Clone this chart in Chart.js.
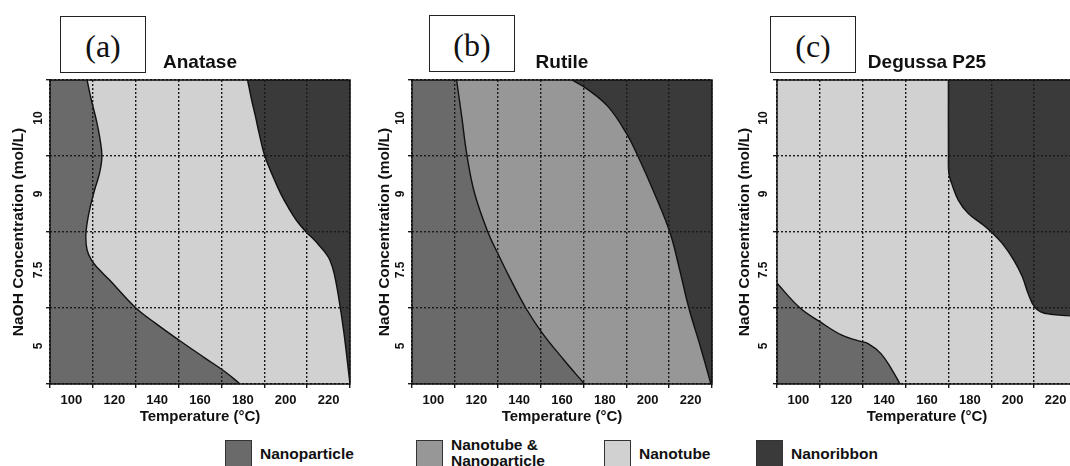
<!DOCTYPE html>
<html>
<head>
<meta charset="utf-8">
<script src="https://cdn.jsdelivr.net/npm/chart.js@4.4.1/dist/chart.umd.min.js"></script>
<style>
  body { margin: 0; width: 1070px; height: 466px; overflow: hidden; background: #fff; position: relative;
         font-family: "Liberation Sans", Arial, sans-serif; color: #111; }
  canvas { position: absolute; top: 0; }
  .tag { position: absolute; box-sizing: border-box; width: 86px; height: 57px; border: 1.5px solid #222; background: #fff;
         font-family: "Liberation Serif", "Times New Roman", serif; font-size: 32px; line-height: 58px; text-align: center; }
  .sw { position: absolute; top: 440px; width: 27px; height: 27px; box-sizing: border-box; border: 1.5px solid #333; }
  .lbl { position: absolute; font-weight: bold; font-size: 15.5px; line-height: 16px; white-space: pre; }
</style>
</head>
<body>
<canvas id="anatase" width="355" height="430" style="left:0px"></canvas>
<canvas id="rutile" width="355" height="430" style="left:362px"></canvas>
<canvas id="p25" width="355" height="430" style="left:727px"></canvas>
<div class="tag" style="left:60px;top:16px">(a)</div>
<div class="tag" style="left:429px;top:15px">(b)</div>
<div class="tag" style="left:770px;top:16px">(c)</div>
<div id="legend"></div>

<script>
const tempTicks = [100, 120, 140, 160, 180, 200, 220];
// NaOH concentration bands, bottom to top
const concLabels = ["5", "7.5", "9", "10"];
const phaseNames = ["Nanoparticle", "Nanotube &\nNanoparticle", "Nanotube", "Nanoribbon"];
const phaseColors = ["#6a6a6a", "#979797", "#d1d1d1", "#3a3a3a"];

// phase boundaries as [band position, temperature]; band 0 = bottom of "5", band 4 = top of "10"
const anataseNpEdge = [[0, 178.7], [0.162, 171.7], [0.338, 162.5], [0.579, 150.1], [0.798, 139.3], [1, 130.1],
  [1.368, 117.8], [1.522, 112.4], [1.632, 109.3], [1.763, 107.3], [1.939, 106.7], [2.114, 107.3], [2.333, 108.8],
  [2.553, 110.8], [2.772, 113.1], [2.991, 114.2], [3.211, 113.4], [3.474, 111.6], [3.737, 109.3], [4, 107.3]];
const anataseNrEdge = [[0, 230], [0.667, 227.2], [1.105, 224.9], [1.456, 222.6], [1.632, 220.6], [1.719, 218.7],
  [1.807, 216.1], [1.895, 213.4], [2, 209.5], [2.158, 204.9], [2.333, 201], [2.509, 197.6], [2.728, 194.1],
  [3.004, 190.2], [3.298, 187.6], [3.518, 185.9], [3.737, 184.1], [4, 182.2]];
const rutileNpEdge = [[0, 170.5], [0.32, 160.8], [0.67, 150.8], [1, 143.1], [1.41, 135.4], [1.72, 130], [2, 125.4],
  [2.51, 119.2], [3, 115.7], [3.54, 113.1], [4, 110.8]];
const rutileNrEdge = [[0, 229.5], [0.49, 224.6], [1, 219.2], [1.54, 214.6], [2, 210.3], [2.51, 203.1], [3, 195.4],
  [3.3, 190], [3.65, 181.5], [3.87, 172.3], [4, 164.6]];
const p25NpEdge = [[0, 147.4], [0.18, 143.8], [0.4, 138.5], [0.535, 132.3], [0.57, 127.7], [0.645, 120], [0.82, 110],
  [1, 100.8], [1.325, 90]];
const p25NrEdge = [[0.895, 230], [0.9, 225.4], [0.917, 217.6], [0.95, 213], [1.02, 210], [1.19, 207.2], [1.41, 204.5],
  [1.63, 200.5], [1.85, 195.1], [2, 190], [2.11, 185.4], [2.245, 179.2], [2.42, 174.6], [2.64, 171.5], [2.77, 170.2],
  [3, 170], [4, 170]];

Chart.defaults.font.family = '"Liberation Sans", Arial, sans-serif';
Chart.defaults.color = "#111";

// plot background + black frame round the plot area
const frame = {
  id: "frame",
  beforeDraw(chart, args, opts) {
    const { ctx, chartArea: a } = chart;
    ctx.save();
    ctx.fillStyle = opts.bg;
    ctx.fillRect(a.left, a.top, a.right - a.left, a.bottom - a.top);
    ctx.restore();
  },
  afterDraw(chart) {
    const { ctx, chartArea: a } = chart;
    ctx.save();
    ctx.strokeStyle = "#111";
    ctx.lineWidth = 1.5;
    ctx.strokeRect(a.left, a.top, a.right - a.left, a.bottom - a.top);
    ctx.restore();
  },
};

function edge(points, fillTo, color) {
  return {
    data: points.map((p) => ({ x: p[1], y: p[0] })),
    borderColor: "#111",
    borderWidth: 1.4,
    pointRadius: 0,
    tension: 0.4,
    fill: { value: fillTo },
    backgroundColor: color,
  };
}

const gridColor = "#1a1a1a";

function drawPanel(id, title, bg, datasets, yTitlePad, yTickPad) {
  new Chart(document.getElementById(id), {
    type: "line",
    data: { datasets },
    options: {
      indexAxis: "y",
      responsive: false,
      animation: false,
      layout: { padding: { top: 0, right: 2, bottom: 0, left: 0 } },
      plugins: {
        legend: { display: false },
        tooltip: { enabled: false },
        title: {
          display: true,
          text: title,
          fullSize: false,
          color: "#111",
          font: { size: 19, weight: "bold" },
          padding: { top: 51.6, bottom: 5.6 },
        },
        frame: { bg },
      },
      scales: {
        x: {
          type: "linear",
          min: 90,
          max: 230,
          afterFit: (s) => { s.height = 46; },
          ticks: {
            stepSize: 10,
            autoSkip: false,
            maxRotation: 0,
            padding: 5,
            color: "#111",
            font: { size: 13, weight: "bold" },
            callback: (v) => (tempTicks.includes(v) ? String(v) : ""),
          },
          grid: {
            z: 1,
            lineWidth: 1.4,
            tickLength: 4,
            tickWidth: 1.4,
            color: (c) => ((c.tick.value - 90) % 20 === 0 ? gridColor : "transparent"),
          },
          border: { display: false, dash: [2, 2] },
          title: {
            display: true,
            text: "Temperature (°C)",
            color: "#111",
            font: { size: 15, weight: "bold" },
            padding: { top: 0, bottom: 4.5 },
          },
        },
        y: {
          type: "linear",
          min: 0,
          max: 4,
          afterFit: (s) => { s.width = 50; },
          ticks: {
            stepSize: 0.5,
            autoSkip: false,
            minRotation: 90,
            maxRotation: 90,
            crossAlign: "center",
            padding: yTickPad,
            color: "#111",
            font: { size: 12, weight: "bold" },
            callback: (v) => (v % 1 === 0.5 ? concLabels[Math.floor(v)] : ""),
          },
          grid: {
            z: 1,
            lineWidth: 1.4,
            tickLength: 4,
            tickWidth: 1.4,
            color: (c) => (Number.isInteger(c.tick.value) ? gridColor : "transparent"),
          },
          border: { display: false, dash: [2, 2] },
          title: {
            display: true,
            text: "NaOH Concentration (mol/L)",
            color: "#111",
            font: { size: 15.5, weight: "bold" },
            padding: { top: yTitlePad, bottom: 0 },
          },
        },
      },
    },
    plugins: [frame],
  });
}

drawPanel("anatase", "Anatase", phaseColors[2],
  [edge(anataseNpEdge, 90, phaseColors[0]), edge(anataseNrEdge, 230, phaseColors[3])], 9.9, -1.1);
drawPanel("rutile", "Rutile", phaseColors[1],
  [edge(rutileNpEdge, 90, phaseColors[0]), edge(rutileNrEdge, 230, phaseColors[3])], 13.7, -0.6);
drawPanel("p25", "Degussa P25", phaseColors[2],
  [edge(p25NpEdge, 90, phaseColors[0]), edge(p25NrEdge, 230, phaseColors[3])], 8.7, 0.7);

// shared legend under the three panels
const swatchX = [225, 416, 604, 756];
const legend = document.getElementById("legend");
phaseNames.forEach((name, i) => {
  const sw = document.createElement("div");
  sw.className = "sw";
  sw.style.left = swatchX[i] + "px";
  sw.style.background = phaseColors[i];
  legend.appendChild(sw);
  const lbl = document.createElement("div");
  lbl.className = "lbl";
  lbl.textContent = name;
  const lines = name.split("\n").length;
  lbl.style.left = swatchX[i] + 35 + "px";
  lbl.style.top = 453.5 - (lines === 1 ? 8 : 17) + "px";
  legend.appendChild(lbl);
});
</script>
</body>
</html>
